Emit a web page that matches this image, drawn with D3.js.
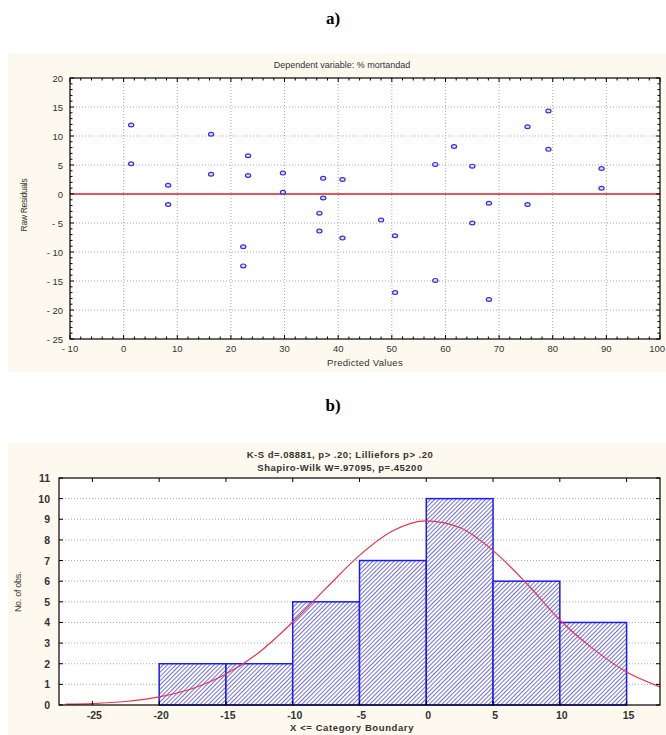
<!DOCTYPE html>
<html>
<head>
<meta charset="utf-8">
<script src="https://cdn.jsdelivr.net/npm/d3@7"></script>
<style>
  body { margin: 0; background: #fff; }
  svg { display: block; }
  text { font-family: Arial, "Liberation Sans", sans-serif; }
</style>
</head>
<body>
<div id="chart"></div>
<script>
// ---- chart a) residuals vs predicted
const predicted = [1.4, 1.4, 8.3, 8.3, 16.3, 16.3, 23.2, 23.2, 22.3, 22.3, 29.7, 29.7,
  37.2, 37.2, 36.5, 36.5, 40.8, 40.8, 48.0, 50.6, 50.6, 58.1, 58.1, 61.6,
  65.0, 65.0, 68.1, 68.1, 75.3, 75.3, 79.2, 79.2, 89.1, 89.1]
const residuals = [11.9, 5.2, 1.5, -1.8, 10.3, 3.4, 6.6, 3.2, -9.1, -12.4, 3.6, 0.3,
  2.7, -0.7, -3.3, -6.4, 2.5, -7.6, -4.5, -7.2, -17.0, 5.1, -14.9, 8.2,
  4.8, -5.0, -1.6, -18.2, 11.6, -1.8, 14.3, 7.7, 4.4, 1.0]
const aXTicks = [-10, 0, 10, 20, 30, 40, 50, 60, 70, 80, 90, 100]
const aYTicks = [-25, -20, -15, -10, -5, 0, 5, 10, 15, 20]

// ---- chart b) histogram of residuals
const binStart = [-20, -15, -10, -5, 0, 5, 10]
const binCount = [2, 2, 5, 7, 10, 6, 4]
const bXTicks = [-25, -20, -15, -10, -5, 0, 5, 10, 15]
const bYTicks = [0, 1, 2, 3, 4, 5, 6, 7, 8, 9, 10, 11]
// expected normal curve
const curveX = [-27, -25, -22.5, -20, -17.5, -15, -12.5, -10, -7.5, -5, -2.5, 0, 2.5, 5, 7.5, 10, 12.5, 15, 17.5]
const curveY = [0.04, 0.07, 0.17, 0.39, 0.8, 1.5, 2.56, 4.02, 5.66, 7.25, 8.44, 8.92, 8.6, 7.48, 5.9, 4.12, 2.72, 1.6, 0.88]

const W = 666, H = 735
const svg = d3.select('#chart').append('svg')
  .attr('width', W).attr('height', H)

const defs = svg.append('defs')
const pat = defs.append('pattern')
  .attr('id', 'hatch')
  .attr('patternUnits', 'userSpaceOnUse')
  .attr('width', 3).attr('height', 3)
  .attr('patternTransform', 'rotate(45)')
pat.append('rect').attr('width', 3).attr('height', 3).attr('fill', '#fff')
pat.append('line')
  .attr('x1', 0).attr('y1', 0).attr('x2', 0).attr('y2', 3)
  .attr('stroke', '#4c4cd6').attr('stroke-width', 1.6)

const textCol = '#333'
const gridCol = '#aaa'

// panel labels
svg.append('text').attr('x', 333).attr('y', 24)
  .attr('text-anchor', 'middle')
  .style('font-family', '"Liberation Serif", "Times New Roman", serif')
  .style('font-weight', 'bold').style('font-size', '17px')
  .text('a)')
svg.append('text').attr('x', 333).attr('y', 411)
  .attr('text-anchor', 'middle')
  .style('font-family', '"Liberation Serif", "Times New Roman", serif')
  .style('font-weight', 'bold').style('font-size', '17px')
  .text('b)')

// backgrounds
svg.append('rect').attr('x', 8).attr('y', 53).attr('width', W - 8).attr('height', 319).attr('fill', '#fdf9ee')
svg.append('rect').attr('x', 8).attr('y', 443).attr('width', W - 8).attr('height', H - 443).attr('fill', '#fdf9ee')

// draws minor/major ticks pointing inward on all four sides
function frameTicks(g, x, y, xMinor, yMinor, xMajor, yMajor) {
  const [x0, x1] = x.range()
  const [y0, y1] = y.range() // y0 bottom, y1 top
  xMinor.forEach(v => {
    const major = xMajor.includes(v)
    const len = major ? 4 : 2.5
    g.append('line').attr('x1', x(v)).attr('x2', x(v)).attr('y1', y0).attr('y2', y0 - len).attr('stroke', '#000')
    g.append('line').attr('x1', x(v)).attr('x2', x(v)).attr('y1', y1).attr('y2', y1 + len).attr('stroke', '#000')
  })
  yMinor.forEach(v => {
    const major = yMajor.includes(v)
    const len = major ? 4 : 2.5
    g.append('line').attr('x1', x0).attr('x2', x0 + len).attr('y1', y(v)).attr('y2', y(v)).attr('stroke', '#000')
    g.append('line').attr('x1', x1).attr('x2', x1 - len).attr('y1', y(v)).attr('y2', y(v)).attr('stroke', '#000')
  })
}

// ================= chart a =================
{
  const left = 70, right = 660, top = 78, bottom = 339
  const x = d3.scaleLinear().domain([-10, 100]).range([left, right])
  const y = d3.scaleLinear().domain([-25, 20]).range([bottom, top])
  const g = svg.append('g')

  g.append('rect').attr('x', left).attr('y', top)
    .attr('width', right - left).attr('height', bottom - top).attr('fill', '#fff')

  // grid
  g.selectAll('.vgrid').data(aXTicks.slice(1, -1)).enter().append('line')
    .attr('x1', d => x(d)).attr('x2', d => x(d)).attr('y1', top).attr('y2', bottom)
    .attr('stroke', gridCol).attr('stroke-dasharray', '1,2')
  g.selectAll('.hgrid').data(aYTicks.slice(1, -1)).enter().append('line')
    .attr('x1', left).attr('x2', right).attr('y1', d => y(d)).attr('y2', d => y(d))
    .attr('stroke', gridCol).attr('stroke-dasharray', '1,2')

  // zero line
  g.append('line').attr('x1', left).attr('x2', right).attr('y1', y(0)).attr('y2', y(0))
    .attr('stroke', '#e3222c').attr('stroke-width', 1.3)

  // points
  g.selectAll('ellipse').data(predicted).enter().append('ellipse')
    .attr('cx', d => x(d))
    .attr('cy', (d, i) => y(residuals[i]))
    .attr('rx', 2.6).attr('ry', 1.9)
    .attr('fill', '#dcdcff').attr('stroke', '#3030d8').attr('stroke-width', 1.2)

  g.append('rect').attr('x', left).attr('y', top)
    .attr('width', right - left).attr('height', bottom - top)
    .attr('fill', 'none').attr('stroke', '#000').attr('stroke-width', 1.2)

  frameTicks(g, x, y, d3.range(-10, 101, 2), d3.range(-25, 21, 1), aXTicks, aYTicks)

  // tick labels; the last one is pulled in so it stays inside the page
  g.selectAll('.xl').data(aXTicks).enter().append('text')
    .attr('x', d => d === 100 ? W - 1 : x(d)).attr('y', 352)
    .attr('text-anchor', d => d === 100 ? 'end' : 'middle').attr('fill', textCol)
    .style('font-size', '9.5px')
    .text(d => d < 0 ? '- ' + Math.abs(d) : d)
  g.selectAll('.yl').data(aYTicks).enter().append('text')
    .attr('x', 63).attr('y', d => y(d) + 3.5)
    .attr('text-anchor', 'end').attr('fill', textCol)
    .style('font-size', '9.5px')
    .text(d => d < 0 ? '- ' + Math.abs(d) : d)

  g.append('text').attr('x', 342).attr('y', 68)
    .attr('text-anchor', 'middle').attr('fill', textCol)
    .style('font-size', '9px')
    .text('Dependent variable: % mortandad')
  g.append('text').attr('x', 365).attr('y', 366)
    .attr('text-anchor', 'middle').attr('fill', textCol)
    .style('font-size', '9.5px').style('letter-spacing', '0.3px')
    .text('Predicted Values')
  g.append('text')
    .attr('transform', 'translate(27, 205) rotate(-90)')
    .attr('text-anchor', 'middle').attr('fill', textCol)
    .style('font-size', '8.5px').style('letter-spacing', '-0.3px')
    .text('Raw Residuals')
}

// ================= chart b =================
{
  const left = 59, right = 660, top = 478, bottom = 705
  const x = d3.scaleLinear().domain([-27.5, 17.5]).range([left, right])
  const y = d3.scaleLinear().domain([0, 11]).range([bottom, top])
  const g = svg.append('g')

  g.append('rect').attr('x', left).attr('y', top)
    .attr('width', right - left).attr('height', bottom - top).attr('fill', '#fff')

  g.selectAll('.hgrid').data(bYTicks.slice(1, -1)).enter().append('line')
    .attr('x1', left).attr('x2', right).attr('y1', d => y(d)).attr('y2', d => y(d))
    .attr('stroke', gridCol).attr('stroke-dasharray', '1,2')

  // bars
  g.selectAll('.bar').data(binStart).enter().append('rect')
    .attr('x', d => x(d))
    .attr('y', (d, i) => y(binCount[i]))
    .attr('width', d => x(d + 5) - x(d))
    .attr('height', (d, i) => y(0) - y(binCount[i]))
    .attr('fill', 'url(#hatch)')
    .attr('stroke', '#1c1cf0').attr('stroke-width', 1.5)

  // normal curve
  const line = d3.line()
    .x(d => x(d))
    .y((d, i) => y(curveY[i]))
    .curve(d3.curveMonotoneX)
  g.append('path').datum(curveX)
    .attr('d', line)
    .attr('fill', 'none').attr('stroke', '#e8344c').attr('stroke-width', 1.2)

  g.append('rect').attr('x', left).attr('y', top)
    .attr('width', right - left).attr('height', bottom - top)
    .attr('fill', 'none').attr('stroke', '#000').attr('stroke-width', 1.2)

  frameTicks(g, x, y, bXTicks, bYTicks, bXTicks, bYTicks)

  g.selectAll('.xl').data(bXTicks).enter().append('text')
    .attr('x', d => x(d) + 2).attr('y', 719)
    .attr('text-anchor', 'middle').attr('fill', textCol)
    .style('font-size', '10.5px').style('font-weight', 'bold')
    .text(d => d)
  g.selectAll('.yl').data(bYTicks).enter().append('text')
    .attr('x', 50).attr('y', d => y(d) + 4)
    .attr('text-anchor', 'end').attr('fill', textCol)
    .style('font-size', '10.5px').style('font-weight', 'bold')
    .text(d => d)

  g.append('text').attr('x', 340).attr('y', 458)
    .attr('text-anchor', 'middle').attr('fill', textCol)
    .style('font-size', '9.5px').style('font-weight', 'bold').style('letter-spacing', '0.5px')
    .text('K-S d=.08881, p> .20; Lilliefors p> .20')
  g.append('text').attr('x', 340).attr('y', 471)
    .attr('text-anchor', 'middle').attr('fill', textCol)
    .style('font-size', '9.5px').style('font-weight', 'bold').style('letter-spacing', '0.5px')
    .text('Shapiro-Wilk W=.97095, p=.45200')
  g.append('text').attr('x', 352).attr('y', 731)
    .attr('text-anchor', 'middle').attr('fill', textCol)
    .style('font-size', '9.5px').style('font-weight', 'bold').style('letter-spacing', '0.6px')
    .text('X  <= Category Boundary')
  g.append('text')
    .attr('transform', 'translate(21, 592) rotate(-90)')
    .attr('text-anchor', 'middle').attr('fill', textCol)
    .style('font-size', '9px').style('letter-spacing', '-0.3px')
    .text('No. of obs.')
}
</script>
</body>
</html>
